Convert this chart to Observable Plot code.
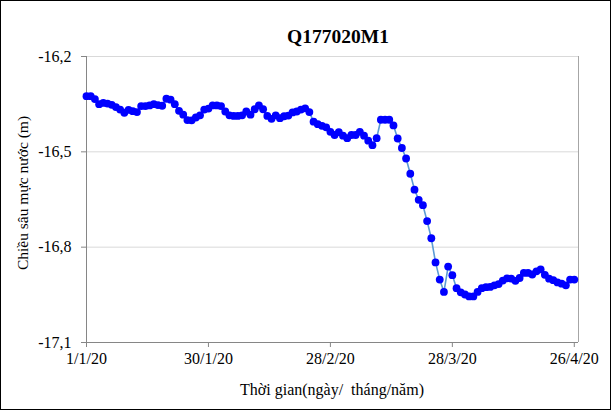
<!DOCTYPE html>
<html><head><meta charset="utf-8">
<script src="https://cdn.jsdelivr.net/npm/d3@7"></script>
<script src="https://cdn.jsdelivr.net/npm/@observablehq/plot@0.6"></script>
<style>
body{margin:0;background:#fff;}
#chart{position:relative;width:611px;height:410px;font-family:"Liberation Serif","Times New Roman",serif;color:#000;}
#border{position:absolute;left:0;top:0;width:609px;height:408px;border:1px solid #000;pointer-events:none;}
#title{position:absolute;left:238px;width:200px;top:26px;text-align:center;font-weight:bold;font-size:19.5px;}
#xlabel{position:absolute;left:182px;width:300px;top:381px;text-align:center;font-size:16px;white-space:pre;}
#ylabel{position:absolute;left:23px;top:193px;transform:translate(-50%,-50%) rotate(-90deg);white-space:nowrap;font-size:15.5px;}
svg{display:block;}
</style></head>
<body>
<div id="chart">
<div id="title">Q177020M1</div>
<div id="ylabel">Chiều sâu mực nước (m)</div>
<div id="xlabel">Thời gian(ngày/  tháng/năm)</div>
<div id="border"></div>
</div>
<script>
const dates = [
"2020-01-01","2020-01-02","2020-01-03","2020-01-04","2020-01-05","2020-01-06","2020-01-07","2020-01-08","2020-01-09","2020-01-10",
"2020-01-11","2020-01-12","2020-01-13","2020-01-14","2020-01-15","2020-01-16","2020-01-17","2020-01-18","2020-01-19","2020-01-20",
"2020-01-21","2020-01-22","2020-01-23","2020-01-24","2020-01-25","2020-01-26","2020-01-27","2020-01-28","2020-01-29","2020-01-30",
"2020-01-31","2020-02-01","2020-02-02","2020-02-03","2020-02-04","2020-02-05","2020-02-06","2020-02-07","2020-02-08","2020-02-09",
"2020-02-10","2020-02-11","2020-02-12","2020-02-13","2020-02-14","2020-02-15","2020-02-16","2020-02-17","2020-02-18","2020-02-19",
"2020-02-20","2020-02-21","2020-02-22","2020-02-23","2020-02-24","2020-02-25","2020-02-26","2020-02-27","2020-02-28","2020-02-29",
"2020-03-01","2020-03-02","2020-03-03","2020-03-04","2020-03-05","2020-03-06","2020-03-07","2020-03-08","2020-03-09","2020-03-10",
"2020-03-11","2020-03-12","2020-03-13","2020-03-14","2020-03-15","2020-03-16","2020-03-17","2020-03-18","2020-03-19","2020-03-20",
"2020-03-21","2020-03-22","2020-03-23","2020-03-24","2020-03-25","2020-03-26","2020-03-27","2020-03-28","2020-03-29","2020-03-30",
"2020-03-31","2020-04-01","2020-04-02","2020-04-03","2020-04-04","2020-04-05","2020-04-06","2020-04-07","2020-04-08","2020-04-09",
"2020-04-10","2020-04-11","2020-04-12","2020-04-13","2020-04-14","2020-04-15","2020-04-16","2020-04-17","2020-04-18","2020-04-19",
"2020-04-20","2020-04-21","2020-04-22","2020-04-23","2020-04-24","2020-04-25","2020-04-26"
];
const depths = [
-16.325,-16.325,-16.334,-16.350,-16.346,-16.348,-16.352,-16.359,-16.367,-16.377,
-16.368,-16.372,-16.375,-16.356,-16.356,-16.354,-16.350,-16.353,-16.355,-16.333,
-16.336,-16.350,-16.371,-16.383,-16.400,-16.401,-16.392,-16.385,-16.367,-16.364,
-16.354,-16.354,-16.356,-16.373,-16.385,-16.387,-16.387,-16.385,-16.373,-16.383,
-16.366,-16.354,-16.366,-16.387,-16.396,-16.385,-16.394,-16.388,-16.386,-16.376,
-16.373,-16.367,-16.363,-16.375,-16.405,-16.413,-16.418,-16.423,-16.437,-16.447,
-16.438,-16.449,-16.457,-16.447,-16.447,-16.437,-16.449,-16.465,-16.479,-16.457,
-16.399,-16.399,-16.399,-16.417,-16.458,-16.488,-16.521,-16.569,-16.619,-16.651,
-16.668,-16.718,-16.772,-16.848,-16.902,-16.941,-16.861,-16.888,-16.929,-16.942,
-16.949,-16.955,-16.955,-16.941,-16.929,-16.926,-16.925,-16.920,-16.916,-16.905,
-16.898,-16.899,-16.906,-16.897,-16.881,-16.881,-16.886,-16.876,-16.870,-16.887,
-16.899,-16.904,-16.911,-16.915,-16.920,-16.902,-16.902
];
const xTickDates = ["2020-01-01","2020-01-30","2020-02-28","2020-03-28","2020-04-26"];
const xTickLabels = ["1/1/20","30/1/20","28/2/20","28/3/20","26/4/20"];
const yTicks = [-17.1,-16.8,-16.5,-16.2];
const yTickLabels = ["-17,1","-16,8","-16,5","-16,2"];
const xDomain = ["2020-01-01","2020-04-27"];

const data = dates.map((d,i)=>({date:new Date(d), depth:depths[i]}));
const xTicks = xTickDates.map(d=>new Date(d));
const xLab = new Map(xTicks.map((d,i)=>[+d, xTickLabels[i]]));
const yLab = new Map(yTicks.map((v,i)=>[v, yTickLabels[i]]));
const x0 = new Date(xDomain[0]), x1 = new Date(xDomain[1]);

const plot = Plot.plot({
  width: 611, height: 410,
  marginLeft: 86, marginRight: 33, marginTop: 56, marginBottom: 68,
  style: {fontFamily: '"Liberation Serif","Times New Roman",serif', fontSize: "16px", color: "#000", background: "transparent", overflow: "visible"},
  x: {type: "utc", domain: [x0, x1]},
  y: {domain: [-17.1, -16.2]},
  marks: [
    Plot.ruleY(yTicks.slice(1), {stroke: "#d9d9d9", strokeWidth: 1}),
    Plot.ruleX([x1], {stroke: "#a6a6a6", strokeWidth: 1}),
    Plot.ruleX([x0], {stroke: "#868686", strokeWidth: 1}),
    Plot.ruleY([-17.1], {stroke: "#868686", strokeWidth: 1}),
    Plot.axisY({ticks: yTicks, tickFormat: v => yLab.get(v), tickSize: 5, tickPadding: 10, stroke: "#868686", fill: "#000", label: null, fontSize: 16}),
    Plot.axisX({ticks: xTicks, tickFormat: d => xLab.get(+d), tickSize: 5, tickPadding: 5, stroke: "#868686", fill: "#000", label: null, fontSize: 16}),
    Plot.line(data, {x: "date", y: "depth", stroke: "#5b9bd5", strokeWidth: 1.6}),
    Plot.dot(data, {x: "date", y: "depth", r: 3.9, fill: "#0000ff", stroke: "none"})
  ]
});
document.getElementById("chart").prepend(plot);
</script>
</body></html>
